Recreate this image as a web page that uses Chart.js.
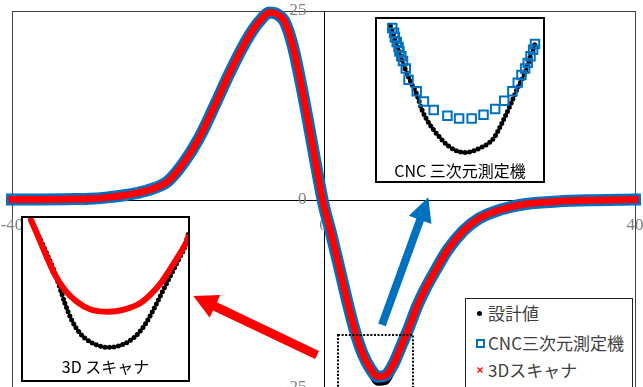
<!DOCTYPE html>
<html><head><meta charset="utf-8">
<script src="https://cdn.jsdelivr.net/npm/chart.js@4"></script>
<style>
html,body{margin:0;padding:0;width:643px;height:387px;overflow:hidden;background:#fff;}
#wrap{position:relative;width:643px;height:387px;overflow:hidden;}
#main{position:absolute;left:0;top:0;}
.inset{position:absolute;border:2px solid #000;background:#fff;box-sizing:border-box;}
#inset1{left:375px;top:17px;width:170px;height:166px;}
#inset2{left:21px;top:216px;width:169px;height:166px;}
.inset canvas{display:block;}
#legend{position:absolute;left:465px;top:298px;width:168px;height:120px;border:1px solid #222;background:#fff;box-sizing:border-box;font-family:'Noto Sans CJK JP';font-size:17px;color:#404040;}
.lrow{position:absolute;left:22px;height:28px;line-height:28px;white-space:nowrap;}
.mk{position:absolute;box-sizing:border-box;line-height:0;font-size:0;}
.mk svg{display:block;}
</style></head>
<body><div id="wrap">
<canvas id="main" width="643" height="400"></canvas>
<div class="inset" id="inset1"><canvas id="c1" width="166" height="162"></canvas></div>
<div class="inset" id="inset2"><canvas id="c2" width="165" height="162"></canvas></div>
<div id="legend"></div>
</div>
<script>
// ---- data ----
const seriesNames = ['設計値', 'CNC三次元測定機', '3Dスキャナ'];
const insetTitles = ['CNC 三次元測定機', '3D スキャナ'];
const xTickValues = [-40, 0, 40];
const xTickLabels = ['-40', '0', '40'];
const yTickValues = [25, 0, -25];
const yTickLabels = ['25', '0', '-25'];

const xValues = [-40,-36,-32,-30,-28,-26,-24,-22,-20,-18,-16,-14,-12,-10,-9,-8,-7,-6,-5,-4,-3,-2,-1,0,1,2,3,4,5,6,7,8,9,10,11,12,13,14,16,18,20,22,24,26,28,30,34,40];
const designY = [0,0,0.05,0.1,0.25,0.5,0.85,1.4,2.4,4.8,8.1,12.4,16.9,20.9,22.6,23.9,24.8,24.6,23.6,20.6,15.9,10.5,4.8,-0.6,-4.6,-8.9,-13.3,-17.4,-20.7,-23.0,-24.3,-24.2,-22.4,-19.7,-16.9,-14.2,-12.0,-10.1,-6.6,-4.1,-2.5,-1.6,-1.0,-0.6,-0.4,-0.25,-0.1,0];
const cncY    = [0,0,0.05,0.1,0.25,0.5,0.85,1.4,2.4,4.8,8.1,12.4,16.9,20.9,22.6,23.9,24.8,24.6,23.6,20.6,15.9,10.5,4.8,-0.6,-4.6,-8.9,-13.3,-17.3,-20.4,-22.4,-23.5,-23.3,-21.8,-19.4,-16.9,-14.2,-12.0,-10.1,-6.6,-4.1,-2.5,-1.6,-1.0,-0.6,-0.4,-0.25,-0.1,0];
const scanY   = [0,0,0.05,0.1,0.25,0.5,0.85,1.4,2.4,4.8,8.1,12.4,16.9,20.9,22.6,23.9,24.8,24.6,23.6,20.6,15.9,10.5,4.8,-0.6,-4.6,-8.9,-13.3,-17.3,-20.4,-22.4,-23.5,-23.3,-21.8,-19.4,-16.9,-14.2,-12.0,-10.1,-6.6,-4.1,-2.5,-1.6,-1.0,-0.6,-0.4,-0.25,-0.1,0];

// inset 1 (CNC) - magnified trough, local units
const in1DesignX = [0.47,0.88,1.35,1.88,2.18,2.53,2.94,3.53,4.24,5.29,6.35,7.18,7.76,8.24,8.71,9.24,9.59,9.88];
const in1DesignY = [9.94,8.80,7.41,6.20,5.60,4.58,3.80,3.01,2.29,1.87,2.17,2.77,3.80,4.82,5.90,6.99,8.01,8.80];
const in1CncX = [0.59,0.71,0.76,0.88,1.0,1.06,1.18,1.29,1.47,1.65,2.18,2.65,3.29,4.18,4.94,5.76,6.53,7.29,7.88,8.41,8.76,9.0,9.24,9.41,9.59,9.76,9.88];
const in1CncY = [9.82,9.52,9.22,8.92,8.61,8.31,8.01,7.71,7.23,6.51,5.78,5.12,4.58,4.22,4.04,4.04,4.28,4.64,5.18,5.78,6.33,6.81,7.23,7.59,8.01,8.43,8.80];
// inset 2 (3D scanner)
const in2DesignX = [0.59,1.02,1.52,2.01,2.31,2.60,3.0,3.49,4.08,4.78,5.17,5.76,6.35,6.94,7.44,7.93,8.42,8.92,9.41,9.70,9.94];
const in2DesignY = [9.76,8.86,7.75,6.55,5.64,4.74,3.73,2.93,2.43,2.13,2.09,2.17,2.43,2.93,3.63,4.54,5.54,6.55,7.55,8.15,9.11];
const in2ScanX = [0.59,1.02,1.52,2.01,2.60,3.30,4.08,5.17,6.15,7.04,7.73,8.33,8.92,9.41,9.80,9.90];
const in2ScanY = [9.76,8.75,7.55,6.45,5.54,4.84,4.38,4.23,4.38,4.74,5.34,6.04,6.95,7.75,8.45,8.75];

// ---- annotation shapes (in main-chart data units) ----
const arrowShapes = [
  {from:[7.51,-16.64], to:[13.46,0.29], color:'#0070C0', shaft:8, headL:24, headW:24},
  {from:[-0.83,-20.62], to:[-16.72,-12.8], color:'#FF0000', shaft:9, headL:24, headW:25}
];
const zoomBox = {x0:1.86, x1:11.49, y0:-17.97, y1:-26.5};

const pts = (xs, ys) => xs.map((x, i) => ({x, y: ys[i]}));
const BLUE = '#0070C0', RED = '#FF0000';

function drawArrow(ctx, x1, y1, x2, y2, sw, hl, hw, color) {
  const dx = x2 - x1, dy = y2 - y1, len = Math.hypot(dx, dy);
  const ux = dx / len, uy = dy / len, nx = -uy, ny = ux;
  const bx = x2 - ux * hl, by = y2 - uy * hl;
  ctx.beginPath();
  ctx.moveTo(x1 + nx * sw / 2, y1 + ny * sw / 2);
  ctx.lineTo(bx + nx * sw / 2, by + ny * sw / 2);
  ctx.lineTo(bx + nx * hw / 2, by + ny * hw / 2);
  ctx.lineTo(x2, y2);
  ctx.lineTo(bx - nx * hw / 2, by - ny * hw / 2);
  ctx.lineTo(bx - nx * sw / 2, by - ny * sw / 2);
  ctx.lineTo(x1 - nx * sw / 2, y1 - ny * sw / 2);
  ctx.closePath();
  ctx.fillStyle = color;
  ctx.fill();
}

const framePlugin = {
  id: 'frame',
  beforeDatasetsDraw(chart) {
    const {ctx, chartArea: a, scales: {x, y}} = chart;
    ctx.save();
    ctx.strokeStyle = '#404040';
    ctx.lineWidth = 1;
    ctx.strokeRect(Math.round(a.left) + 0.5, Math.round(a.top) + 0.5, Math.round(a.right - a.left), Math.round(a.bottom - a.top));
    const x0 = Math.round(x.getPixelForValue(0)) + 0.5;
    const y0 = Math.round(y.getPixelForValue(0)) + 0.5;
    ctx.strokeStyle = '#000';
    ctx.beginPath();
    ctx.moveTo(x0, a.top); ctx.lineTo(x0, a.bottom);
    ctx.moveTo(a.left, y0); ctx.lineTo(a.right, y0);
    ctx.stroke();
    ctx.font = '17px "Liberation Serif"';
    ctx.fillStyle = '#7f7f7f';
    ctx.textBaseline = 'middle';
    ctx.textAlign = 'right';
    yTickValues.forEach((v, i) => ctx.fillText(yTickLabels[i], x0 - 18, y.getPixelForValue(v)));
    ctx.textAlign = 'center';
    xTickValues.forEach((v, i) => ctx.fillText(xTickLabels[i], x.getPixelForValue(v), y0 + 25));
    ctx.restore();
  },
  afterDatasetsDraw(chart) {
    const {ctx, scales: {x, y}} = chart;
    ctx.save();
    ctx.strokeStyle = '#000';
    ctx.lineWidth = 2;
    ctx.setLineDash([2, 1.6]);
    const bx0 = x.getPixelForValue(zoomBox.x0), bx1 = x.getPixelForValue(zoomBox.x1);
    const by0 = y.getPixelForValue(zoomBox.y0), by1 = y.getPixelForValue(zoomBox.y1);
    ctx.strokeRect(bx0, by0, bx1 - bx0, by1 - by0);
    ctx.setLineDash([]);
    arrowShapes.forEach(s => drawArrow(ctx,
      x.getPixelForValue(s.from[0]), y.getPixelForValue(s.from[1]),
      x.getPixelForValue(s.to[0]), y.getPixelForValue(s.to[1]),
      s.shaft, s.headL, s.headW, s.color));
    ctx.restore();
  }
};

const mainChart = new Chart(document.getElementById('main'), {
  type: 'scatter',
  data: {datasets: [
    {label: seriesNames[0], data: pts(xValues, designY), showLine: true, borderColor: '#000', borderWidth: 6,
     pointRadius: 0, order: 3, cubicInterpolationMode: 'monotone', clip: false},
    {label: seriesNames[1], data: pts(xValues, cncY), showLine: true, borderColor: BLUE, borderWidth: 12,
     pointRadius: 0, order: 2, cubicInterpolationMode: 'monotone', borderCapStyle: 'square', borderJoinStyle: 'round', clip: false},
    {label: seriesNames[2], data: pts(xValues, scanY), showLine: true, borderColor: RED, borderWidth: 7,
     pointRadius: 0, order: 1, cubicInterpolationMode: 'monotone', borderCapStyle: 'square', borderJoinStyle: 'round', clip: false}
  ]},
  options: {
    responsive: false, animation: false, devicePixelRatio: 1,
    layout: {padding: {left: 12, top: 11, right: 8, bottom: 12}},
    scales: {
      x: {type: 'linear', min: -40, max: 40, display: false},
      y: {type: 'linear', min: -25, max: 25, display: false}
    },
    plugins: {legend: {display: false}, tooltip: {enabled: false}}
  },
  plugins: [framePlugin]
});

function insetChart(id, datasets, title, xr, yr, padBottom) {
  return new Chart(document.getElementById(id), {
    type: 'scatter',
    data: {datasets},
    options: {
      responsive: false, animation: false, devicePixelRatio: 1,
      layout: {padding: 0},
      scales: {
        x: {type: 'linear', min: xr[0], max: xr[1], display: false},
        y: {type: 'linear', min: yr[0], max: yr[1], display: false}
      },
      plugins: {
        legend: {display: false}, tooltip: {enabled: false},
        title: {display: true, text: title, position: 'bottom', color: '#000',
          font: {family: 'Noto Sans CJK JP', size: 16, weight: 'normal', lineHeight: 1.2},
          padding: {top: 0, bottom: padBottom}}
      }
    }
  });
}

const dotted = {showLine: true, borderColor: '#000', borderWidth: 5, borderDash: [0, 4.5], borderCapStyle: 'round',
  pointRadius: 0, cubicInterpolationMode: 'monotone', clip: false};

insetChart('c1', [
  Object.assign({label: seriesNames[0], data: pts(in1DesignX, in1DesignY), order: 2}, dotted),
  {label: seriesNames[1], data: pts(in1CncX, in1CncY), showLine: false, pointStyle: 'rect', pointRadius: 6,
   borderColor: BLUE, borderWidth: 2, backgroundColor: 'rgba(0,0,0,0)', order: 1, clip: false}
], insetTitles[0], [0.118, 9.882], [1.277, 9.88], 0);

insetChart('c2', [
  Object.assign({label: seriesNames[0], data: pts(in2DesignX, in2DesignY), order: 2}, dotted),
  {label: seriesNames[2], data: pts(in2ScanX, in2ScanY), showLine: true, borderColor: RED, borderWidth: 6,
   pointRadius: 0, cubicInterpolationMode: 'monotone', borderCapStyle: 'round', order: 1, clip: false}
], insetTitles[1], [0.118, 9.882], [1.458, 9.88], 3);

// ---- legend (HTML, from series names) ----
const legend = document.getElementById('legend');
const rowCenters = [15, 45, 72];
const markers = [
  {style: 'left:11px;width:5px;height:5px;border-radius:50%;background:#000;', size: 5, svg: ''},
  {style: 'left:10px;width:9px;height:9px;border:2px solid ' + BLUE + ';', size: 9, svg: ''},
  {style: 'left:10px;width:8px;height:8px;', size: 8,
   svg: '<svg width="8" height="8"><path d="M1.5 1.5L6.5 6.5M6.5 1.5L1.5 6.5" stroke="' + RED + '" stroke-width="1.4"/></svg>'}
];
seriesNames.forEach((name, i) => {
  const c = rowCenters[i], m = markers[i];
  legend.insertAdjacentHTML('beforeend',
    '<span class="mk" style="' + m.style + 'top:' + (c - 1 - m.size / 2) + 'px">' + m.svg + '</span>' +
    '<span class="lrow" style="top:' + (c - 15) + 'px">' + name + '</span>');
});
</script>
</body></html>
